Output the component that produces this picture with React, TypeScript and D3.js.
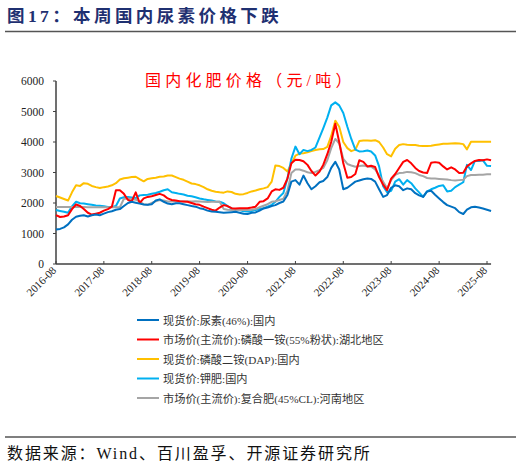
import React from "react";
import * as d3 from "d3";

const startMonth = "2016-08";
const xTickLabels = ["2016-08","2017-08","2018-08","2019-08","2020-08","2021-08","2022-08","2023-08","2024-08","2025-08"];
const yTicks = [0, 1000, 2000, 3000, 4000, 5000, 6000];

const urea = [1130,1150,1200,1300,1450,1550,1580,1600,1560,1600,1620,1600,1650,1700,1730,1780,1800,1900,2000,2040,2010,1980,1950,1940,1960,2080,2120,2040,1980,1960,1990,1990,1960,1930,1900,1880,1830,1800,1750,1720,1710,1700,1680,1690,1700,1710,1680,1650,1640,1680,1690,1750,1820,1850,1900,1930,2000,2050,2260,2700,2750,2600,2900,2650,2450,2550,2680,2720,2850,3150,3350,3100,2450,2500,2600,2700,2740,2780,2800,2790,2700,2450,2200,2260,2500,2580,2550,2420,2480,2450,2320,2250,2200,2380,2400,2270,2150,2030,1930,1880,1830,1700,1640,1780,1860,1880,1850,1820,1780,1740];
const map55 = [1600,1540,1560,1600,1800,1950,1900,1800,1680,1620,1650,1680,1750,1800,1880,2420,2420,2300,2100,2050,2350,2000,2150,2200,2220,2260,2300,2250,2150,2100,2080,2060,2050,2040,2000,1960,1940,1880,1830,1780,1750,1850,1930,1900,1830,1820,1830,1830,1830,1850,1880,2040,2060,2150,2380,2450,2430,2500,2800,3300,3420,3410,3370,3250,3050,2900,3030,3250,3600,4000,4600,4000,3300,2830,2850,2950,3400,3350,3200,3220,3180,2850,2600,2420,2800,2950,3150,3350,3410,3300,3150,3050,3000,2980,3320,3340,3320,3200,3100,3170,3100,2980,2990,3200,3300,3380,3410,3400,3430,3400];
const dap = [2230,2180,2130,2080,2350,2580,2560,2650,2630,2560,2520,2490,2520,2540,2580,2650,2770,2810,2830,2850,2860,2780,2710,2790,2810,2830,2860,2870,2900,2900,2850,2800,2760,2700,2640,2620,2580,2520,2450,2400,2370,2350,2340,2380,2360,2300,2280,2290,2330,2380,2410,2450,2480,2520,2700,3230,3210,3150,3030,3300,3550,3620,3630,3660,3700,3740,3760,3770,3840,4200,4700,4500,4000,3800,3700,3750,4030,4050,4050,4040,4060,4000,3820,3600,3530,3780,3900,3930,3910,3900,3900,3880,3870,3870,3880,3900,3920,3940,3940,3950,3960,3950,3930,3760,4010,4010,4010,4010,4010,4010];
const potash = [1770,1740,1710,1680,1890,2040,1990,1980,1960,1940,1920,1910,1890,1870,1870,1900,2150,2190,2200,2180,2160,2250,2260,2270,2300,2330,2370,2420,2450,2350,2330,2300,2280,2240,2220,2190,2150,2120,2100,2080,2050,2040,1990,1900,1820,1790,1770,1730,1720,1740,1770,1800,1830,1880,1940,2040,2200,2330,2800,3450,3850,3600,3740,3700,3740,3820,4150,4450,4800,5200,5300,5200,4950,4500,4100,3750,3690,3700,3720,3690,3560,3200,2550,2350,2400,2700,2780,2600,2750,2650,2480,2350,2200,2380,2450,2500,2560,2580,2380,2400,2520,2600,2680,3250,3080,3380,3380,3400,3220,3210];
const compound = [1870,1870,1870,1870,1870,1870,1870,1870,1860,1860,1860,1860,1860,1860,1860,1860,1860,2140,2150,2130,2110,2050,1960,1940,2000,2060,2100,2080,2050,2050,2060,2060,2050,2060,2050,2060,2050,2040,2030,2040,2040,2040,1800,1780,1770,1770,1780,1770,1770,1780,1800,1860,1910,1960,2040,2060,2100,2140,2400,2980,3100,3100,3060,3010,2980,3020,3080,3150,3400,3800,4100,3950,3450,3280,3230,3190,3210,3230,3200,3190,3100,2900,2700,2480,2750,2920,2980,2990,3020,3010,2980,2920,2880,2820,2800,2800,2790,2780,2770,2750,2740,2750,2760,2880,2920,2920,2930,2930,2940,2940];

const seriesNames = [
  "现货价:尿素(46%):国内",
  "市场价(主流价):磷酸一铵(55%粉状):湖北地区",
  "现货价:磷酸二铵(DAP):国内",
  "现货价:钾肥:国内",
  "市场价(主流价):复合肥(45%CL):河南地区",
];
const seriesColors = ["#0070C0", "#FF0000", "#FFC000", "#00B0F0", "#A5A5A5"];
const seriesData = [urea, map55, dap, potash, compound];
const drawOrder = [2, 3, 4, 1, 0];

const parseMonth = d3.timeParse("%Y-%m");

export default function App() {
  const W = 521, H = 467;
  const start = parseMonth(startMonth) as Date;
  const dates = urea.map((_, i) => d3.timeMonth.offset(start, i));
  const x = d3.scaleTime()
    .domain([parseMonth(xTickLabels[0]) as Date, parseMonth(xTickLabels[xTickLabels.length - 1]) as Date])
    .range([56, 487]);
  const y = d3.scaleLinear().domain([0, 6000]).range([264, 81]);
  const line = d3.line<number>()
    .x((_, i) => x(dates[i]))
    .y((v) => y(v));
  const serif = "'Liberation Serif', 'Times New Roman', 'Noto Sans CJK SC', serif";
  const cjk = "'Liberation Serif', 'Noto Sans CJK SC', serif";
  const axisColor = "#404040";
  const xEnd = x(dates[dates.length - 1]);

  return (
    <div style={{ position: "fixed", left: 0, top: 0, width: W, height: H, background: "#fff" }}>
      <svg width={W} height={H} style={{ display: "block" }}>
        <rect width={W} height={H} fill="#fff" />
        <text x={7} y={22} fill="#1F3071" fontFamily={cjk} fontWeight="bold" fontSize={17.5} letterSpacing={3.4}>
          图17：本周国内尿素价格下跌
        </text>
        <line x1={5} x2={516} y1={31.5} y2={31.5} stroke="#555" strokeWidth={1.5} />

        <text x={145} y={86} fill="#FF0000" fontFamily={cjk} fontSize={16} letterSpacing={4.2}>
          国内化肥价格（元/吨）
        </text>

        {/* y axis */}
        <line x1={56} x2={56} y1={y(6000)} y2={y(0)} stroke={axisColor} strokeWidth={1.5} />
        {yTicks.map((t) => (
          <g key={t}>
            <line x1={53} x2={56} y1={y(t)} y2={y(t)} stroke={axisColor} strokeWidth={1} />
            <text x={44} y={y(t) + 4} textAnchor="end" fontFamily={serif} fontSize={11.5} fill="#222">
              {t}
            </text>
          </g>
        ))}

        {/* lines */}
        {drawOrder.map((si) => (
          <path key={si} d={line(seriesData[si]) || ""} fill="none" stroke={seriesColors[si]} strokeWidth={2} strokeLinejoin="round" />
        ))}

        {/* x axis */}
        <line x1={56} x2={xEnd} y1={y(0)} y2={y(0)} stroke={axisColor} strokeWidth={1.5} />
        {xTickLabels.map((lab) => {
          const tx = x(parseMonth(lab) as Date);
          return (
            <g key={lab}>
              <line x1={tx} x2={tx} y1={y(0) - 3} y2={y(0)} stroke={axisColor} strokeWidth={1} />
              <text
                transform={`translate(${tx + 1},${y(0) + 7}) rotate(-45)`}
                textAnchor="end"
                fontFamily={serif}
                fontSize={11}
                fill="#222"
              >
                {lab}
              </text>
            </g>
          );
        })}

        {/* legend */}
        {seriesNames.map((name, i) => {
          const ly = 320 + i * 19.5;
          return (
            <g key={name}>
              <line x1={137} x2={159} y1={ly} y2={ly} stroke={seriesColors[i]} strokeWidth={2} />
              <text x={163} y={ly + 4.5} fontFamily={cjk} fontSize={11.2} fill="#333">
                {name}
              </text>
            </g>
          );
        })}

        <line x1={5} x2={516} y1={437} y2={437} stroke="#555" strokeWidth={1.5} />
        <text x={7} y={459} fontFamily={cjk} fontSize={16} fill="#111" letterSpacing={1.9}>
          数据来源：Wind、百川盈孚、开源证券研究所
        </text>
      </svg>
    </div>
  );
}
